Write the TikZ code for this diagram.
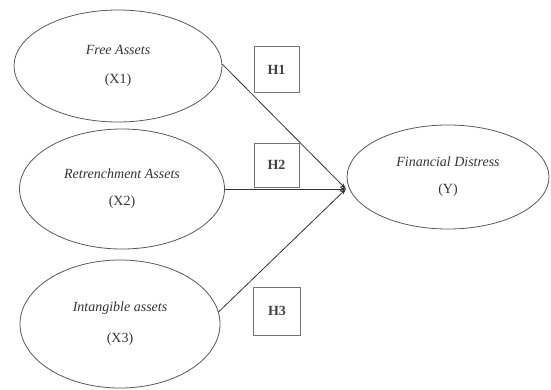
\documentclass[tikz,border=0pt]{standalone}
\usepackage{fontspec}
\setmainfont{Liberation Serif}
\usetikzlibrary{shapes.geometric,arrows.meta}
\begin{document}
\begin{tikzpicture}[x=1pt,y=-1pt,
  var/.style={ellipse,draw=black!65,line width=0.8pt,inner sep=0pt,align=center,
    font=\fontsize{14}{17}\selectfont,text=black!80},
  hbox/.style={rectangle,draw=black!55,line width=0.8pt,minimum width=45pt,minimum height=46pt,
    font=\fontsize{14}{17}\selectfont\bfseries,text=black!75},
  link/.style={draw=black!80,line width=0.8pt,-{Stealth[length=6pt,width=4pt]}}]
\useasboundingbox (0,0) rectangle (551,389);
\node[var,minimum width=208pt,minimum height=112pt] (X1) at (118,66) {\textit{Free Assets}\\[12pt](X1)};
\node[var,minimum width=205pt,minimum height=120pt] (X2) at (122,189) {\textit{Retrenchment Assets}\\[10pt](X2)};
\node[var,minimum width=200pt,minimum height=128pt] (X3) at (120,324) {\textit{Intangible assets}\\[14pt](X3)};
\node[var,minimum width=202pt,minimum height=104pt] (Y) at (448,177) {\textit{Financial Distress}\\[10pt](Y)};
\node[hbox] (H1) at (276.5,69.5) {H1};
\node[hbox,minimum height=44pt] (H2) at (276.5,165) {H2};
\node[hbox,minimum width=47pt,minimum height=48pt] (H3) at (277,311) {H3};
\coordinate (tip) at (346,189);
\draw[link] (X1.1) -- (tip);
\draw[link] (X2.east) -- (tip);
\draw[link] (X3.7) -- (tip);
\end{tikzpicture}
\end{document}
